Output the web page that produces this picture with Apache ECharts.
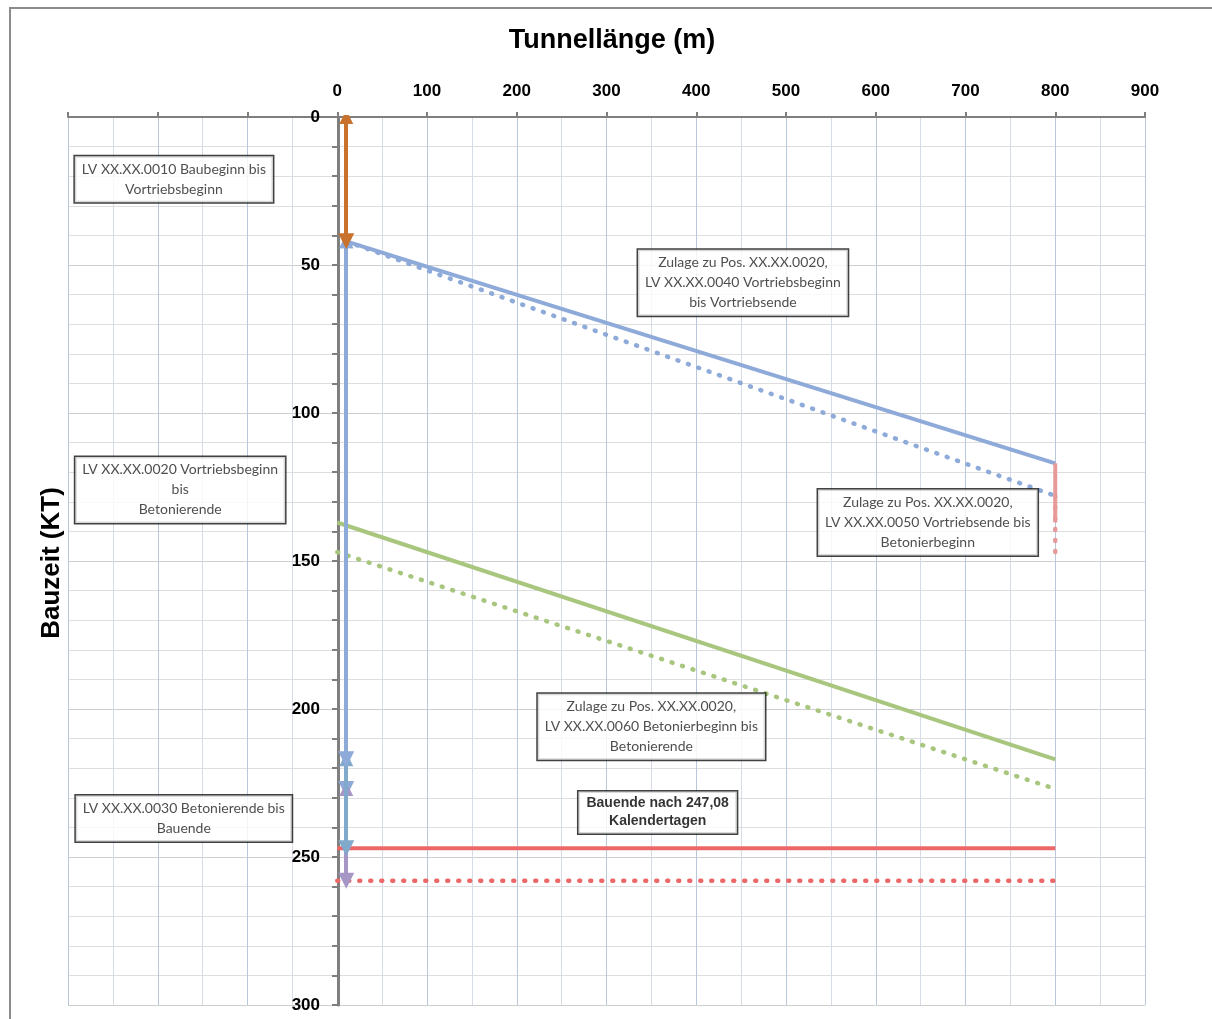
<!DOCTYPE html>
<html>
<head>
<meta charset="utf-8">
<title>Bauzeit-Weg-Diagramm</title>
<script src="https://cdn.jsdelivr.net/npm/echarts@6/dist/echarts.min.js"></script>
<style>
  html, body { margin: 0; padding: 0; background: #fff; }
  #chart { width: 1212px; height: 1019px; }
</style>
</head>
<body>
<div id="chart"></div>
<script>
// Weg-Zeit-Linien: [Tunnellänge m, Bauzeit KT]
const vortriebSoll = [[10, 42], [800, 117]]
const vortriebIst = [[10, 42], [800, 128]]
const betonSoll = [[0, 137], [800, 217]]
const betonIst = [[0, 147], [800, 227]]
const umstellSoll = [[800, 117], [800, 137]]
const umstellIst = [[800, 128], [800, 147]]
const bauendeSoll = [[0, 247.08], [800, 247.08]]
const bauendeIst = [[0, 258], [800, 258]]

// Zeitpfeile bei x = 10 m (von KT / bis KT)
const pfeilX = 10
const pfeilVon = [42, 227, 217, 42, 0]
const pfeilBis = [227, 258, 247.08, 217, 42]

// Beschriftungen: [x, y, Text]
const notizen = [
  [-182, 21, 'LV XX.XX.0010 Baubeginn bis\nVortriebsbeginn'],
  [-175, 126, 'LV XX.XX.0020 Vortriebsbeginn\nbis\nBetonierende'],
  [-171, 237, 'LV XX.XX.0030 Betonierende bis\nBauende'],
  [452, 56, 'Zulage zu Pos. XX.XX.0020,\nLV XX.XX.0040 Vortriebsbeginn\nbis Vortriebsende'],
  [658, 137, 'Zulage zu Pos. XX.XX.0020,\nLV XX.XX.0050 Vortriebsende bis\nBetonierbeginn'],
  [350, 206, 'Zulage zu Pos. XX.XX.0020,\nLV XX.XX.0060 Betonierbeginn bis\nBetonierende']
]
const bauendeNotiz = [[357, 235, 'Bauende nach 247,08\nKalendertagen']]

const farben = {
  blau: '#8eaad9',
  gruen: '#a9c67f',
  rot: '#ec6868',
  rosa: '#e79a9a',
  orange: '#c8722d',
  lila: '#a696c6',
  tuerkis: '#80a9cb'
}
const pfeilFarben = [farben.blau, farben.lila, farben.tuerkis, farben.blau, farben.orange]

const fontAxis = 'Liberation Sans'
const fontNote = 'Lato'

function linie(name, data, color, dotted) {
  return {
    name: name,
    type: 'line',
    data: data,
    showSymbol: false,
    symbol: 'none',
    lineStyle: {
      color: color,
      width: dotted ? 4.5 : 4,
      type: dotted ? [1, 10] : 'solid',
      cap: dotted ? 'round' : 'butt'
    },
    z: 3
  }
}

const chart = echarts.init(document.getElementById('chart'))

chart.setOption({
  animation: false,
  backgroundColor: '#fff',
  grid: {
    left: 68,
    right: 67,
    top: 117,
    bottom: 14,
    outerBoundsMode: 'none'
  },
  graphic: [
    {
      type: 'rect',
      shape: { x: 10, y: 8, width: 1240, height: 1040 },
      style: { fill: 'none', stroke: '#8c8c8c', lineWidth: 2 },
      silent: true
    },
    {
      type: 'text',
      x: 612,
      y: 41,
      style: {
        text: 'Tunnellänge (m)',
        font: 'bold 27px "Liberation Sans"',
        fill: '#000',
        textAlign: 'center',
        textVerticalAlign: 'middle'
      }
    },
    {
      type: 'text',
      x: 52,
      y: 563,
      rotation: Math.PI / 2,
      style: {
        text: 'Bauzeit (KT)',
        font: 'bold 26px "Liberation Sans"',
        fill: '#000',
        textAlign: 'center',
        textVerticalAlign: 'middle'
      }
    }
  ],
  xAxis: {
    type: 'value',
    position: 'top',
    min: -300,
    max: 900,
    interval: 100,
    axisLine: { onZero: false, lineStyle: { color: '#7f7f7f', width: 2 } },
    axisTick: { show: true, length: 5, lineStyle: { color: '#7f7f7f', width: 2 } },
    axisLabel: {
      formatter: v => (v < 0 ? '' : String(v)),
      color: '#000',
      fontWeight: 'bold',
      fontSize: 17,
      fontFamily: fontAxis,
      margin: 17
    },
    splitLine: { show: true, lineStyle: { color: '#b8c8da', width: 1 } },
    minorTick: { show: false, splitNumber: 2 },
    minorSplitLine: { show: true, lineStyle: { color: '#d5dce5', width: 1 } }
  },
  yAxis: {
    type: 'value',
    position: 'left',
    // Achse liegt bei Tunnellänge 0 (300 m rechts vom Gitterrand)
    offset: -270,
    inverse: true,
    min: 0,
    max: 300,
    interval: 50,
    axisLine: { onZero: false, lineStyle: { color: '#7f7f7f', width: 3 } },
    axisTick: { show: true, length: 6, lineStyle: { color: '#7f7f7f', width: 2 } },
    minorTick: { show: true, splitNumber: 5, length: 6, lineStyle: { color: '#7f7f7f', width: 2 } },
    axisLabel: {
      color: '#000',
      fontWeight: 'bold',
      fontSize: 17,
      fontFamily: fontAxis,
      margin: 18
    },
    splitLine: { show: true, lineStyle: { color: '#cfcfcf', width: 1 } },
    minorSplitLine: { show: true, lineStyle: { color: '#dedede', width: 1 } }
  },
  series: [
    linie('Vortrieb Soll', vortriebSoll, farben.blau, false),
    linie('Vortrieb Ist', vortriebIst, farben.blau, true),
    linie('Betonieren Soll', betonSoll, farben.gruen, false),
    linie('Betonieren Ist', betonIst, farben.gruen, true),
    linie('Umstellen Soll', umstellSoll, farben.rosa, false),
    linie('Umstellen Ist', umstellIst, farben.rosa, true),
    linie('Bauende Soll', bauendeSoll, farben.rot, false),
    linie('Bauende Ist', bauendeIst, farben.rot, true),
    {
      name: 'Zeitpfeile',
      type: 'lines',
      coordinateSystem: 'cartesian2d',
      symbol: ['triangle', 'triangle'],
      symbolSize: [14, 16],
      z: 4,
      lineStyle: { width: 4, opacity: 1 },
      data: pfeilVon.map((von, i) => ({
        coords: [[pfeilX, von], [pfeilX, pfeilBis[i]]],
        lineStyle: { color: pfeilFarben[i], width: 4, opacity: 1 }
      }))
    },
    {
      name: 'Notizen',
      type: 'scatter',
      symbolSize: 0,
      z: 6,
      silent: true,
      data: notizen.map(n => ({ value: [n[0], n[1]], name: n[2] })),
      label: {
        show: true,
        position: 'inside',
        formatter: '{b}',
        fontFamily: fontNote,
        fontSize: 14,
        lineHeight: 20,
        color: '#222',
        align: 'center',
        backgroundColor: '#fff',
        borderColor: '#111',
        borderWidth: 1.5,
        padding: [3, 7]
      }
    },
    {
      name: 'Bauende',
      type: 'scatter',
      symbolSize: 0,
      z: 6,
      silent: true,
      data: bauendeNotiz.map(n => ({ value: [n[0], n[1]], name: n[2] })),
      label: {
        show: true,
        position: 'inside',
        formatter: '{b}',
        fontFamily: fontAxis,
        fontWeight: 'bold',
        fontSize: 14,
        lineHeight: 18,
        color: '#000',
        align: 'center',
        backgroundColor: '#fff',
        borderColor: '#111',
        borderWidth: 1.5,
        padding: [3, 8]
      }
    }
  ]
})
</script>
</body>
</html>
